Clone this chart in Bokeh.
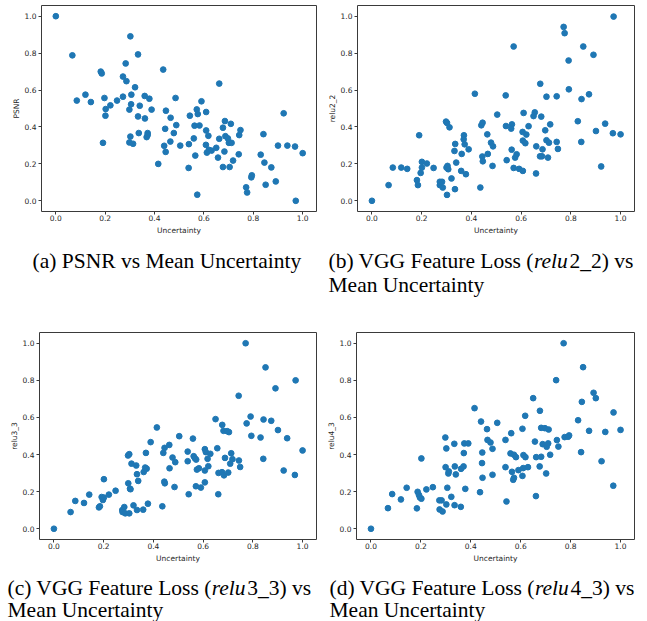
from bokeh.plotting import figure
from bokeh.layouts import column, row
from bokeh.models import Range1d, FixedTicker, NumeralTickFormatter
from bokeh.core.properties import value
from bokeh.embed import file_html
from bokeh.resources import INLINE

# ---------------- data ----------------
unc_a = [0.0, 0.067, 0.085, 0.12, 0.142, 0.182, 0.186, 0.191, 0.197, 0.202,
         0.201, 0.221, 0.248, 0.272, 0.272, 0.283, 0.286, 0.302, 0.298, 0.302,
         0.298, 0.306, 0.305, 0.313, 0.321, 0.333, 0.333, 0.340, 0.336, 0.360,
         0.361, 0.379, 0.388, 0.372, 0.372, 0.368, 0.415, 0.435, 0.446, 0.443,
         0.439, 0.445, 0.465, 0.464, 0.485, 0.488, 0.478, 0.504, 0.543, 0.539,
         0.538, 0.562, 0.559, 0.565, 0.571, 0.575, 0.573, 0.582, 0.590, 0.609,
         0.609, 0.618, 0.608, 0.612, 0.620, 0.631, 0.650, 0.657, 0.662, 0.662,
         0.677, 0.685, 0.677, 0.683, 0.687, 0.697, 0.701, 0.709, 0.712, 0.704,
         0.718, 0.741, 0.743, 0.748, 0.771, 0.775, 0.792, 0.794, 0.830, 0.841,
         0.845, 0.850, 0.873, 0.891, 0.900, 0.923, 0.938, 0.969, 0.972, 1.0]
psnr = [1.0, 0.788, 0.543, 0.575, 0.535, 0.70, 0.69, 0.314, 0.557, 0.497,
        0.461, 0.517, 0.543, 0.673, 0.564, 0.744, 0.648, 0.891, 0.494, 0.348,
        0.316, 0.575, 0.523, 0.309, 0.615, 0.793, 0.457, 0.515, 0.367, 0.568,
        0.446, 0.553, 0.494, 0.367, 0.356, 0.345, 0.20, 0.711, 0.488, 0.390,
        0.298, 0.265, 0.450, 0.321, 0.557, 0.410, 0.367, 0.299, 0.461, 0.307,
        0.178, 0.407, 0.338, 0.245, 0.495, 0.470, 0.033, 0.408, 0.539, 0.481,
        0.381, 0.352, 0.303, 0.261, 0.276, 0.272, 0.287, 0.234, 0.635, 0.336,
        0.396, 0.432, 0.183, 0.267, 0.350, 0.338, 0.314, 0.417, 0.314, 0.183,
        0.218, 0.252, 0.356, 0.383, 0.073, 0.045, 0.127, 0.138, 0.250, 0.361,
        0.207, 0.087, 0.181, 0.105, 0.299, 0.474, 0.299, 0.294, 0.0, 0.258]

unc_b = [0.0, 0.067, 0.084, 0.118, 0.142, 0.181, 0.185, 0.190, 0.196, 0.201,
         0.201, 0.221, 0.248, 0.273, 0.273, 0.282, 0.285, 0.298, 0.302, 0.300,
         0.304, 0.307, 0.302, 0.312, 0.320, 0.332, 0.335, 0.334, 0.339, 0.361,
         0.359, 0.370, 0.369, 0.373, 0.378, 0.389, 0.414, 0.436, 0.440, 0.445,
         0.444, 0.446, 0.464, 0.466, 0.479, 0.487, 0.485, 0.504, 0.538, 0.539,
         0.542, 0.570, 0.563, 0.560, 0.562, 0.570, 0.582, 0.576, 0.592, 0.607,
         0.610, 0.606, 0.621, 0.607, 0.617, 0.630, 0.650, 0.655, 0.661, 0.660,
         0.677, 0.681, 0.676, 0.684, 0.686, 0.697, 0.702, 0.702, 0.712, 0.717,
         0.708, 0.743, 0.743, 0.748, 0.771, 0.775, 0.791, 0.792, 0.828, 0.843,
         0.842, 0.850, 0.873, 0.891, 0.901, 0.922, 0.938, 0.969, 0.972, 1.0]
relu2_2 = [0.0, 0.085, 0.18, 0.18, 0.173, 0.112, 0.085, 0.355, 0.151, 0.211,
           0.18, 0.202, 0.178, 0.103, 0.085, 0.103, 0.072, 0.429, 0.422, 0.180,
           0.189, 0.171, 0.032, 0.398, 0.121, 0.27, 0.308, 0.063, 0.207, 0.254,
           0.162, 0.355, 0.333, 0.306, 0.144, 0.279, 0.580, 0.072, 0.409, 0.423,
           0.240, 0.214, 0.360, 0.254, 0.315, 0.295, 0.189, 0.467, 0.571, 0.405,
           0.220, 0.836, 0.414, 0.391, 0.277, 0.178, 0.252, 0.234, 0.173, 0.162,
           0.476, 0.373, 0.359, 0.326, 0.312, 0.404, 0.459, 0.479, 0.295, 0.148,
           0.634, 0.456, 0.241, 0.241, 0.279, 0.382, 0.564, 0.328, 0.315, 0.414,
           0.234, 0.566, 0.319, 0.281, 0.942, 0.908, 0.760, 0.604, 0.431, 0.551,
           0.319, 0.836, 0.577, 0.791, 0.378, 0.186, 0.418, 0.366, 0.998, 0.360]

unc_c = [0.0, 0.067, 0.086, 0.121, 0.142, 0.181, 0.185, 0.192, 0.197, 0.201,
         0.201, 0.221, 0.248, 0.275, 0.276, 0.283, 0.287, 0.298, 0.303, 0.299,
         0.306, 0.308, 0.303, 0.312, 0.320, 0.334, 0.331, 0.334, 0.339, 0.361,
         0.359, 0.370, 0.367, 0.373, 0.378, 0.389, 0.414, 0.436, 0.440, 0.445,
         0.444, 0.446, 0.464, 0.465, 0.477, 0.488, 0.485, 0.504, 0.538, 0.538,
         0.542, 0.559, 0.562, 0.567, 0.572, 0.571, 0.575, 0.583, 0.591, 0.607,
         0.611, 0.618, 0.607, 0.607, 0.621, 0.629, 0.650, 0.657, 0.662, 0.661,
         0.677, 0.682, 0.676, 0.684, 0.688, 0.697, 0.704, 0.701, 0.709, 0.713,
         0.718, 0.743, 0.744, 0.749, 0.771, 0.775, 0.791, 0.794, 0.831, 0.843,
         0.842, 0.851, 0.874, 0.891, 0.901, 0.924, 0.938, 0.969, 0.972, 1.0]
relu3_3 = [0.0, 0.09, 0.15, 0.139, 0.184, 0.115, 0.121, 0.171, 0.155, 0.267,
           0.168, 0.184, 0.205, 0.101, 0.09, 0.117, 0.083, 0.395, 0.402, 0.245,
           0.216, 0.213, 0.083, 0.351, 0.126, 0.294, 0.341, 0.101, 0.258, 0.306,
           0.103, 0.409, 0.330, 0.324, 0.135, 0.467, 0.546, 0.121, 0.409, 0.436,
           0.254, 0.245, 0.452, 0.326, 0.384, 0.359, 0.225, 0.499, 0.416, 0.364,
           0.186, 0.486, 0.391, 0.380, 0.373, 0.229, 0.319, 0.326, 0.222, 0.429,
           0.413, 0.377, 0.314, 0.250, 0.337, 0.404, 0.591, 0.434, 0.301, 0.186,
           0.560, 0.528, 0.305, 0.288, 0.382, 0.526, 0.521, 0.303, 0.351, 0.407,
           0.375, 0.717, 0.368, 0.333, 1.0, 0.568, 0.605, 0.501, 0.492, 0.589,
           0.377, 0.870, 0.582, 0.757, 0.532, 0.314, 0.488, 0.290, 0.800, 0.422]

unc_d = [0.0, 0.068, 0.085, 0.120, 0.143, 0.184, 0.187, 0.192, 0.196, 0.202,
         0.202, 0.222, 0.248, 0.274, 0.275, 0.283, 0.287, 0.298, 0.302, 0.299,
         0.306, 0.310, 0.312, 0.302, 0.322, 0.334, 0.336, 0.335, 0.340, 0.361,
         0.360, 0.374, 0.371, 0.372, 0.378, 0.390, 0.415, 0.437, 0.441, 0.446,
         0.445, 0.447, 0.465, 0.467, 0.479, 0.487, 0.487, 0.506, 0.539, 0.539,
         0.543, 0.562, 0.559, 0.573, 0.581, 0.565, 0.573, 0.570, 0.591, 0.607,
         0.618, 0.611, 0.619, 0.610, 0.607, 0.629, 0.650, 0.657, 0.662, 0.661,
         0.677, 0.682, 0.676, 0.682, 0.688, 0.697, 0.712, 0.702, 0.704, 0.710,
         0.718, 0.742, 0.745, 0.751, 0.772, 0.776, 0.790, 0.794, 0.830, 0.845,
         0.842, 0.850, 0.874, 0.892, 0.901, 0.924, 0.939, 0.971, 0.972, 1.0]
relu4_3 = [0.0, 0.111, 0.187, 0.158, 0.221, 0.110, 0.199, 0.183, 0.169, 0.379,
           0.162, 0.212, 0.224, 0.153, 0.104, 0.153, 0.093, 0.492, 0.433, 0.332,
           0.221, 0.298, 0.309, 0.131, 0.172, 0.458, 0.336, 0.127, 0.293, 0.323,
           0.118, 0.460, 0.336, 0.408, 0.215, 0.460, 0.650, 0.197, 0.578, 0.411,
           0.354, 0.275, 0.537, 0.479, 0.465, 0.431, 0.291, 0.571, 0.479, 0.332,
           0.147, 0.515, 0.406, 0.399, 0.386, 0.307, 0.275, 0.264, 0.316, 0.539,
           0.609, 0.397, 0.386, 0.327, 0.285, 0.332, 0.704, 0.470, 0.386, 0.176,
           0.636, 0.544, 0.336, 0.388, 0.456, 0.542, 0.535, 0.298, 0.442, 0.460,
           0.399, 0.801, 0.478, 0.443, 1.0, 0.494, 0.496, 0.503, 0.585, 0.684,
           0.413, 0.871, 0.528, 0.733, 0.704, 0.364, 0.522, 0.232, 0.627, 0.533]

ticks = [0.0, 0.2, 0.4, 0.6, 0.8, 1.0]
x_label = "Uncertainty"
y_labels = ["PSNR", "relu2_2", "relu3_3", "relu4_3"]

cap_a = "(a) PSNR vs Mean Uncertainty"
cap_b = ["(b) VGG Feature Loss (", "relu", "2_2) vs"]
cap_c = ["(c) VGG Feature Loss (", "relu", "3_3) vs"]
cap_d = ["(d) VGG Feature Loss (", "relu", "4_3) vs"]
cap_line2 = "Mean Uncertainty"

# ---------------- styling ----------------
DOT = "#1f77b4"
INK = "#262626"
TICK_FONT = "DejaVu Sans"
CAP_FONT = "Liberation Serif"
CAP_SIZE = 21.5
X_RANGE = (-0.058, 1.056)
Y_RANGE = (-0.058, 1.058)


def panel(x, y, ylabel, width, height, left, right, top, bottom):
    p = figure(width=width, height=height, output_backend="svg",
               toolbar_location=None,
               x_range=Range1d(*X_RANGE), y_range=Range1d(*Y_RANGE),
               min_border_left=left, min_border_right=right,
               min_border_top=top, min_border_bottom=bottom)
    p.scatter(x, y, size=5.7, fill_color=DOT, line_color=DOT)
    p.grid.visible = False
    p.outline_line_color = "#3a3a3a"
    p.outline_line_width = 1
    p.outline_line_alpha = 1.0
    p.background_fill_color = "white"
    p.border_fill_color = "white"
    p.xaxis.axis_label = x_label
    p.yaxis.axis_label = ylabel
    for ax in (p.xaxis[0], p.yaxis[0]):
        ax.ticker = FixedTicker(ticks=ticks)
        ax.formatter = NumeralTickFormatter(format="0.0")
        ax.axis_line_color = None
        ax.major_tick_out = 3
        ax.major_tick_in = 0
        ax.minor_tick_out = 0
        ax.minor_tick_in = 0
        ax.major_tick_line_color = "#3a3a3a"
        ax.major_label_text_font = TICK_FONT
        ax.major_label_text_font_size = "7.5px"
        ax.major_label_text_color = INK
        ax.axis_label_text_font = TICK_FONT
        ax.axis_label_text_font_size = "7.5px"
        ax.axis_label_text_font_style = "normal"
        ax.axis_label_text_color = INK
    p.xaxis[0].major_label_standoff = 0
    p.xaxis[0].axis_label_standoff = 2
    p.yaxis[0].major_label_standoff = 2
    p.yaxis[0].axis_label_standoff = 1
    return p


# Times / Liberation Serif advance widths (per 1000 em)
REG = {' ': 250, '(': 333, ')': 333, 'a': 444, 'b': 500, 'c': 444, 'd': 500,
       'V': 722, 'G': 722, 'F': 556, 'e': 444, 't': 278, 'u': 500, 'r': 333,
       'L': 611, 'o': 500, 's': 389, 'v': 500, '2': 500, '3': 500, '4': 500, '_': 500}
ITA = {'r': 389, 'e': 444, 'l': 278, 'u': 500}


def tw(s, table):
    return sum(table[ch] for ch in s) * CAP_SIZE / 1000.0


def caption_fig(height, items):
    c = figure(width=647, height=height, output_backend="svg", toolbar_location=None,
               x_range=Range1d(0, 647), y_range=Range1d(height, 0),
               x_axis_type=None, y_axis_type=None, min_border=0)
    c.grid.visible = False
    c.outline_line_color = None
    c.background_fill_color = "white"
    c.border_fill_color = "white"
    for (xs, ys, txt, style) in items:
        c.text(x=[xs], y=[ys], text=[txt], text_font=value(CAP_FONT),
               text_font_size=f"{CAP_SIZE}px", text_font_style=style,
               text_color="black", text_baseline="middle", text_align="left")
    return c


def pieces(x0, y0, parts):
    pre, it, post = parts
    x1 = x0 + tw(pre, REG)
    x2 = x1 + tw(it, ITA) + 1.0
    return [(x0, y0, pre, "normal"), (x1, y0, it, "italic"), (x2, y0, post, "normal")]


# row 1: frames at x 41..316 / 357..634, y 5..211
pa = panel(unc_a, psnr, y_labels[0], 322, 240, 41, 6, 5, 29)
pb = panel(unc_b, relu2_2, y_labels[1], 325, 240, 35, 13, 5, 29)
# row 2: frames at x 39..316 / 356..634, y 332..539
pc = panel(unc_c, relu3_3, y_labels[2], 322, 248, 39, 6, 10, 31)
pd = panel(unc_d, relu4_3, y_labels[3], 325, 248, 34, 13, 10, 31)

# caption rows (y = centre of each text line, in pixels from the row top)
cap1 = caption_fig(82, [(32, 20.5, cap_a, "normal")] + pieces(328, 20.5, cap_b)
                   + [(328, 44.5, cap_line2, "normal")])
cap2 = caption_fig(51, pieces(7, 17, cap_c) + pieces(329, 17, cap_d)
                   + [(7, 39.5, cap_line2, "normal"), (329, 39.5, cap_line2, "normal")])

layout = column(row(pa, pb), cap1, row(pc, pd), cap2)

open("out.html", "w").write(file_html(layout, INLINE))
